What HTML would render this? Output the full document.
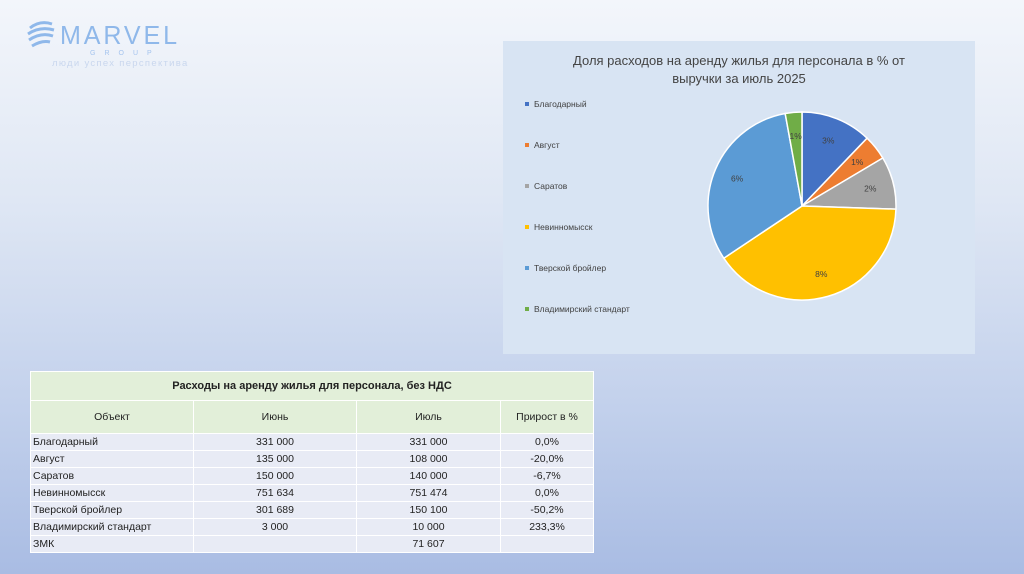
<!DOCTYPE html>
<html><head><meta charset="utf-8"><style>
body{margin:0;width:1024px;height:574px;overflow:hidden;font-family:"Liberation Sans","Noto Sans CJK SC",sans-serif;background:linear-gradient(180deg,#f3f6fb 0%,#dfe7f4 35%,#c3d1ec 70%,#a9bce3 100%);position:relative}
.logo{position:absolute;left:26px;top:14px}
#chart{position:absolute;left:503px;top:41px;width:472px;height:313px;background:#d8e4f3}
table{position:absolute;left:30px;top:371px;border-collapse:collapse;font-size:10.5px;color:#222;table-layout:fixed;width:563px}
td{border:1px solid #fff;padding:0 2px;height:16px;background:#e8ebf5;overflow:hidden;white-space:nowrap}
.c{text-align:center}
.h td{background:#e2efd9}
</style></head><body>
<div class="logo">
<svg width="180" height="56">
<g fill="none" stroke="#8fb8ea" stroke-width="3"><path d="M4 14 q10 -8 22 -4"/><path d="M2 20 q12 -8 26 -4"/><path d="M3 26 q12 -8 24 -4"/><path d="M6 32 q10 -6 18 -4"/></g>
<text x="34" y="30" font-size="26" fill="#8fb8ea" letter-spacing="3" font-weight="100" textLength="120" lengthAdjust="spacingAndGlyphs" font-family="Liberation Sans">MARVEL</text>
<text x="64" y="41" font-size="7" fill="#a5c4ee" letter-spacing="9">GROUP</text>
<text x="26" y="52" font-size="9.5" fill="#c9d7ee" letter-spacing="1.3">люди успех перспектива</text>
</svg></div>
<div id="chart">
<svg id="pie" width="472" height="313"></svg></div>
<table>
<colgroup><col style="width:163px"><col style="width:163px"><col style="width:144px"><col style="width:93px"></colgroup>
<tr class="h"><td colspan="4" class="c" style="height:28px;font-weight:bold;font-size:11px">Расходы на аренду жилья для персонала, без НДС</td></tr>
<tr class="h"><td class="c" style="height:32px">Объект</td><td class="c">Июнь</td><td class="c">Июль</td><td class="c">Прирост в %</td></tr>
<tr><td>Благодарный</td><td class="c">331 000</td><td class="c">331 000</td><td class="c">0,0%</td></tr>
<tr><td>Август</td><td class="c">135 000</td><td class="c">108 000</td><td class="c">-20,0%</td></tr>
<tr><td>Саратов</td><td class="c">150 000</td><td class="c">140 000</td><td class="c">-6,7%</td></tr>
<tr><td>Невинномысск</td><td class="c">751 634</td><td class="c">751 474</td><td class="c">0,0%</td></tr>
<tr><td>Тверской бройлер</td><td class="c">301 689</td><td class="c">150 100</td><td class="c">-50,2%</td></tr>
<tr><td>Владимирский стандарт</td><td class="c">3 000</td><td class="c">10 000</td><td class="c">233,3%</td></tr>
<tr><td>ЗМК</td><td class="c"></td><td class="c">71 607</td><td class="c"></td></tr>
</table>
<script>
const categories=["Благодарный","Август","Саратов","Невинномысск","Тверской бройлер","Владимирский стандарт"];
const values=[2.55,0.9,1.9,8.4,6.6,0.6];
const labels=["3%","1%","2%","8%","6%","1%"];
const colors=["#4472c4","#ed7d31","#a5a5a5","#ffc000","#5b9bd5","#70ad47"];
const svg=document.getElementById('pie');const NS="http://www.w3.org/2000/svg";
function mk(t,a){const e=document.createElementNS(NS,t);for(const k in a)e.setAttribute(k,a[k]);svg.appendChild(e);return e;}
const t1=mk('text',{x:236,y:24,'text-anchor':'middle','font-size':13,fill:'#444'});t1.textContent="Доля расходов на аренду жилья для персонала в % от";


const t2=mk('text',{x:236,y:42,'text-anchor':'middle','font-size':13,fill:'#444'});t2.textContent="выручки за июль 2025";


const cx=299,cy=165,r=94;const total=values.reduce((a,b)=>a+b,0);
let a0=0;
values.forEach((v,i)=>{const a1=a0+v/total*2*Math.PI;
const p=(a)=>[cx+r*Math.sin(a),cy-r*Math.cos(a)];const [x0,y0]=p(a0),[x1,y1]=p(a1);
const path=mk('path',{d:`M${cx},${cy}L${x0},${y0}A${r},${r} 0 ${a1-a0>Math.PI?1:0} 1 ${x1},${y1}Z`,fill:colors[i],stroke:'#fff','stroke-width':1.5});


const am=(a0+a1)/2;const lr=r*0.75;
const lt=mk('text',{x:cx+lr*Math.sin(am),y:cy-lr*Math.cos(am)+3,'text-anchor':'middle','font-size':8.5,fill:'#404040'});lt.textContent=labels[i];


const ly=64+i*41;
const m=mk('rect',{x:22,y:ly-3,width:4,height:4,fill:colors[i]});


const tx=mk('text',{x:31,y:ly+2,'font-size':8.5,fill:'#404040'});tx.textContent=categories[i];


a0=a1;});
</script>
</body></html>
